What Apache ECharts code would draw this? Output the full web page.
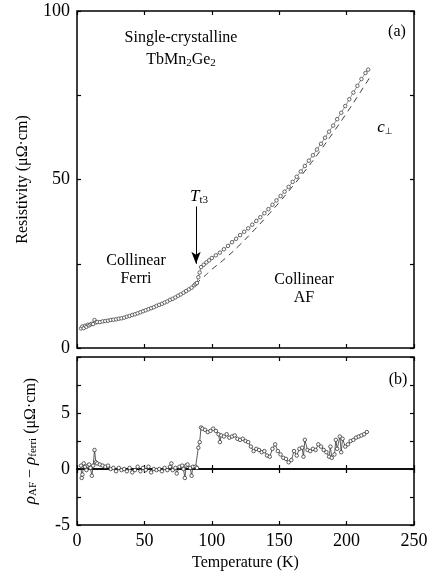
<!DOCTYPE html>
<html>
<head>
<meta charset="utf-8">
<script src="https://cdn.jsdelivr.net/npm/echarts@6/dist/echarts.min.js"></script>
<style>html,body{margin:0;padding:0;background:#fff;}#c{width:435px;height:576px;}</style>
</head>
<body>
<div id="c"></div>
<script>
// ---- data ----
const topT = [3,4,5,6,7,8,9,10,11,12,13,14,15,17,19,21,23,25,27,29,31,33,35,37,39,41,43,45,47,49,51,53,55,57,59,61,63,65,67,69,71,73,75,77,79,81,83,85,87,88,89,90,91,92,94,96,98,100,103,106,109,112,115,118,121,124,127,130,133,136,139,142,145,148,151,154,157,160,163,166,169,172,175,178,181,184,187,190,193,196,199,202,205,208,211,214,216];
const topRho = [5.8,6.4,5.9,6.6,6.3,6.9,6.7,7.0,7.2,7.1,8.3,7.6,7.7,7.7,7.9,8.0,8.1,8.3,8.4,8.5,8.7,8.8,9.0,9.3,9.5,9.8,10.0,10.3,10.6,10.9,11.2,11.5,11.8,12.1,12.5,12.8,13.1,13.5,13.8,14.3,14.6,15.0,15.5,15.9,16.4,16.9,17.4,17.9,18.6,19.0,19.3,21.0,22.4,24.0,24.7,25.4,26.0,26.7,27.5,28.3,29.3,30.3,31.4,32.4,33.5,34.5,35.5,36.6,37.7,38.8,40.0,41.2,42.5,43.8,45.1,46.4,47.8,49.3,50.8,52.4,54.0,55.6,57.2,58.9,60.6,62.4,64.2,66.0,67.9,69.8,71.8,73.8,75.8,77.8,79.8,81.6,82.6];
const fitT = [88,94,100,110,120,130,140,150,160,170,180,190,200,210,218];
const fitRho = [19.0,21.1,23.3,26.6,30.3,34.4,38.7,43.2,48.0,53.0,58.3,63.9,69.7,75.8,80.8];
const diffT = [3,3.5,4,5,6,7,8,9,10,11,12,13,14,15,17,19,21,23,25,27,29,31,33,35,37,39,41,43,45,47,49,51,53,55,57,59,61,63,65,67,69,70,71,73,74,76,78,79,80,81,82,84,85,86,88,89,90,91,92,93,95,97,99,101,103,105,106,107,109,111,113,115,117,119,121,123,125,127,129,131,133,135,137,139,141,143,145,147,149,151,153,155,157,159,161,163,165,167,168,169,171,173,175,177,179,181,183,185,187,188,189,191,192,193,195,196,197,199,201,203,205,207,209,211,213,215];
const diffVal = [0.3,-0.8,-0.5,0.5,0.2,-0.1,0.3,0.4,0.1,-0.6,0.3,1.7,0.6,0.5,0.4,0.3,0.2,0.3,0.0,0.1,-0.2,0.1,-0.1,0.0,-0.2,0.1,-0.3,-0.1,0.2,-0.2,0.1,-0.1,0.2,-0.3,0.0,-0.1,0.0,-0.2,0.1,-0.1,0.2,0.5,-0.1,0.1,-0.4,0.2,0.3,0.0,-0.8,0.3,0.4,0.1,-0.6,0.2,0.2,0.1,1.9,2.4,3.7,3.6,3.5,3.3,3.4,3.6,3.4,3.1,2.4,3.0,2.9,3.1,2.8,2.9,3.0,2.7,2.6,2.7,2.5,2.4,2.0,1.6,1.8,1.7,1.5,1.6,1.2,1.1,1.8,2.2,1.6,1.3,1.0,0.9,0.6,0.8,1.6,1.2,1.8,1.9,1.1,2.6,1.7,1.6,1.8,1.7,2.2,2.0,1.7,1.5,1.1,2.0,1.0,1.3,2.6,1.8,2.9,1.5,2.7,2.0,2.2,2.5,2.6,2.8,2.9,3.0,3.1,3.3];
const xTickLabels = [0,50,100,150,200,250];
const topYLabels = [0,50,100];
const bottomYLabels = [-5,0,5];
const arrowT = 88.3, arrowFrom = 42, arrowTo = 25;

// ---- chart ----
const FONT = '"Liberation Serif", "DejaVu Serif", serif';
const chart = echarts.init(document.getElementById('c'), null, {renderer:'canvas'});
const G0 = {left:77, top:11, width:337, height:337};
const G1 = {left:77, top:357, width:337, height:168};
const frame = {show:true, borderColor:'#000', borderWidth:1.5, backgroundColor:'transparent'};
const tickIn = {show:true, inside:true, length:4, lineStyle:{color:'#000', width:1.2}};
const line0 = {show:false, onZero:false};
function xa(gi, pos, labels, extra){
  return Object.assign({type:'value', gridIndex:gi, position:pos, min:0, max:250, interval:50,
    axisLine:line0, axisTick:tickIn, splitLine:{show:false},
    axisLabel: labels ? {show:true, fontFamily:FONT, fontSize:18, color:'#000', margin:7,
      formatter:v=> xTickLabels.includes(v) ? String(v) : ''} : {show:false}}, extra||{});
}
function ya(gi, pos, min, max, interval, labelsArr, extra){
  return Object.assign({type:'value', gridIndex:gi, position:pos, min:min, max:max, interval:interval,
    axisLine:line0, axisTick:tickIn, splitLine:{show:false},
    axisLabel: labelsArr ? {show:true, fontFamily:FONT, fontSize:18, color:'#000', margin:7, inside:false,
      formatter:v=> labelsArr.includes(v) ? String(v) : ''} : {show:false}}, extra||{});
}
const zeroLine = {show:true, onZero:true, lineStyle:{color:'#000', width:1.5}};
const tickOut = {show:true, inside:false, length:4, lineStyle:{color:'#000', width:1.2}};
const option = {
  animation:false,
  backgroundColor:'#fff',
  grid:[Object.assign({}, G0, frame), Object.assign({}, G1, frame)],
  xAxis:[
    xa(0,'bottom',false),
    xa(0,'top',false),
    xa(1,'bottom',true,{name:'Temperature (K)', nameLocation:'middle', nameGap:30,
      nameTextStyle:{fontFamily:FONT, fontSize:16, color:'#000'}}),
    xa(1,'top',false),
    xa(1,'bottom',false,{axisLine:zeroLine, axisTick:tickOut}),
    xa(1,'top',false,{axisLine:zeroLine, axisTick:tickOut})
  ],
  yAxis:[
    ya(0,'left',0,100,25,topYLabels,{name:'Resistivity (μΩ·cm)', nameLocation:'middle', nameGap:46,
      nameTextStyle:{fontFamily:FONT, fontSize:16, color:'#000'}}),
    ya(0,'right',0,100,25,null),
    ya(1,'left',-5,10,2.5,bottomYLabels,{name:'{i|ρ}{s|AF}{n| − }{i|ρ}{s|ferri}{n| (μΩ·cm)}', nameLocation:'middle', nameGap:38,
      nameTextStyle:{fontFamily:FONT, fontSize:16, color:'#000',
        rich:{i:{fontFamily:FONT, fontSize:17, fontStyle:'italic', color:'#000'},
              s:{fontFamily:FONT, fontSize:11, color:'#000', verticalAlign:'bottom', padding:[6,0,0,0]},
              n:{fontFamily:FONT, fontSize:16, color:'#000'}}}}),
    ya(1,'right',-5,10,2.5,null)
  ],
  series:[
    {type:'line', name:'data', xAxisIndex:0, yAxisIndex:0,
      data: topT.map((t,i)=>[t, topRho[i]]),
      symbol:'circle', symbolSize:3.5, showSymbol:true,
      itemStyle:{color:'#fff', borderColor:'#444', borderWidth:0.8},
      lineStyle:{color:'#666', width:0.7},
      markLine:{silent:true, symbol:['none','arrow'], symbolSize:[7,12],
        label:{show:false}, lineStyle:{color:'#000', width:1, type:'solid'},
        data:[[{coord:[arrowT, arrowFrom]},{coord:[arrowT, arrowTo]}]]}
    },
    {type:'line', name:'fit', xAxisIndex:0, yAxisIndex:0,
      data: fitT.map((t,i)=>[t, fitRho[i]]), smooth:true,
      symbol:'none', lineStyle:{color:'#222', width:0.9, type:[6,5]}
    },
    {type:'line', name:'diff', xAxisIndex:2, yAxisIndex:2,
      data: diffT.map((t,i)=>[t, diffVal[i]]),
      symbol:'circle', symbolSize:3.5, showSymbol:true,
      itemStyle:{color:'#fff', borderColor:'#333', borderWidth:0.8},
      lineStyle:{color:'#333', width:0.8}
    }
  ],
  graphic:[
    {type:'text', x:0, y:0, style:{text:'Single-crystalline', x:181, y:38, fontFamily:FONT, fontSize:16, fill:'#000', align:'center', verticalAlign:'middle'}},
    {type:'text', x:0, y:0, style:{text:'{n|TbMn}{s|2}{n|Ge}{s|2}', x:181, y:60, align:'center', verticalAlign:'middle',
      rich:{n:{fontFamily:FONT, fontSize:16, fill:'#000'}, s:{fontFamily:FONT, fontSize:11, fill:'#000', verticalAlign:'bottom', padding:[7,0,0,0]}}}},
    {type:'text', x:0, y:0, style:{text:'(a)', x:397, y:32, fontFamily:FONT, fontSize:16, fill:'#000', align:'center', verticalAlign:'middle'}},
    {type:'text', x:0, y:0, style:{text:'{i|c}{s|⊥}', x:385, y:128, align:'center', verticalAlign:'middle',
      rich:{i:{fontFamily:FONT, fontSize:17, fontStyle:'italic', fill:'#000'}, s:{fontFamily:'DejaVu Sans', fontSize:9, fill:'#000', verticalAlign:'bottom', padding:[7,0,0,0]}}}},
    {type:'text', x:0, y:0, style:{text:'{i|T}{s|t3}', x:199, y:197, align:'center', verticalAlign:'middle',
      rich:{i:{fontFamily:FONT, fontSize:17, fontStyle:'italic', fill:'#000'}, s:{fontFamily:FONT, fontSize:11, fill:'#000', verticalAlign:'bottom', padding:[7,0,0,0]}}}},
    {type:'text', x:0, y:0, style:{text:'Collinear\nFerri', x:136, y:270, fontFamily:FONT, fontSize:16, lineHeight:18, fill:'#000', align:'center', verticalAlign:'middle'}},
    {type:'text', x:0, y:0, style:{text:'Collinear\nAF', x:304, y:289, fontFamily:FONT, fontSize:16, lineHeight:18, fill:'#000', align:'center', verticalAlign:'middle'}},
    {type:'text', x:0, y:0, style:{text:'(b)', x:398, y:380, fontFamily:FONT, fontSize:16, fill:'#000', align:'center', verticalAlign:'middle'}}
  ]
};
chart.setOption(option);
</script>
</body>
</html>
